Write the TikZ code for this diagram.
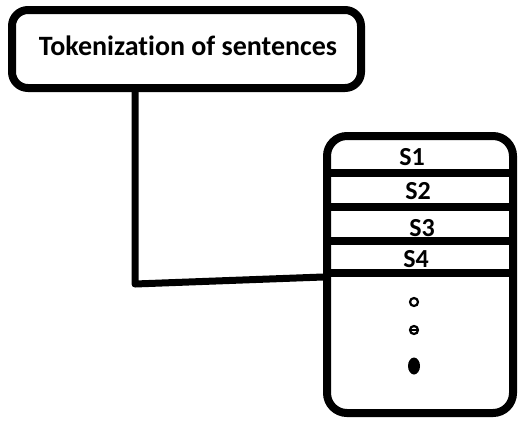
\documentclass[tikz,border=0pt]{standalone}
\usepackage{fontspec}
\usetikzlibrary{shapes.geometric}
\setmainfont[Ligatures=NoCommon]{Carlito}
\begin{document}
\begin{tikzpicture}[x=1pt,y=-1pt,
  outline/.style={draw=black,line width=8pt,rounded corners=16pt,fill=white},
  divider/.style={draw=black,line width=8pt},
  link/.style={draw=black,line width=7pt,line join=round},
  label/.style={font=\fontsize{28}{32}\selectfont\bfseries,inner sep=0pt},
  slabel/.style={font=\fontsize{26}{30}\selectfont\bfseries,inner sep=0pt}]
  \useasboundingbox (0,0) rectangle (519,421);
  % title box
  \node[outline,minimum width=349pt,minimum height=78pt,inner sep=0pt] (title) at (186.5,49) {};
  \node[label] (titletext) at (188,46) {Tokenization of sentences};
  % sentence list box
  \node[outline,rounded corners=20pt,minimum width=186pt,minimum height=277pt,inner sep=0pt] (list) at (420,274.5) {};
  \foreach \d in {41,75,109,141}
    \draw[divider] ([yshift=-\d pt]list.north west) -- ([yshift=-\d pt]list.north east);
  \node[slabel] (s1) at (412,157) {S1};
  \node[slabel] (s2) at (418,191) {S2};
  \node[slabel] (s3) at (422,228) {S3};
  \node[slabel] (s4) at (416,259) {S4};
  % continuation marks
  \node[circle,draw=black,line width=2.2pt,minimum size=8pt,inner sep=0pt] (d1) at (414,302) {};
  \node[circle,draw=black,line width=2.2pt,minimum size=8pt,inner sep=0pt] (d2) at (414,330) {};
  \draw[line width=1.4pt] (d2.west) -- (d2.east);
  \node[ellipse,fill=black,minimum width=12pt,minimum height=17pt,inner sep=0pt] (d3) at (414,366) {};
  % connector
  \coordinate (bend) at (135,284);
  \coordinate (entry) at (0,277);
  \draw[link] (title.south -| bend) -- (bend) -- (list.west |- entry);
\end{tikzpicture}
\end{document}
